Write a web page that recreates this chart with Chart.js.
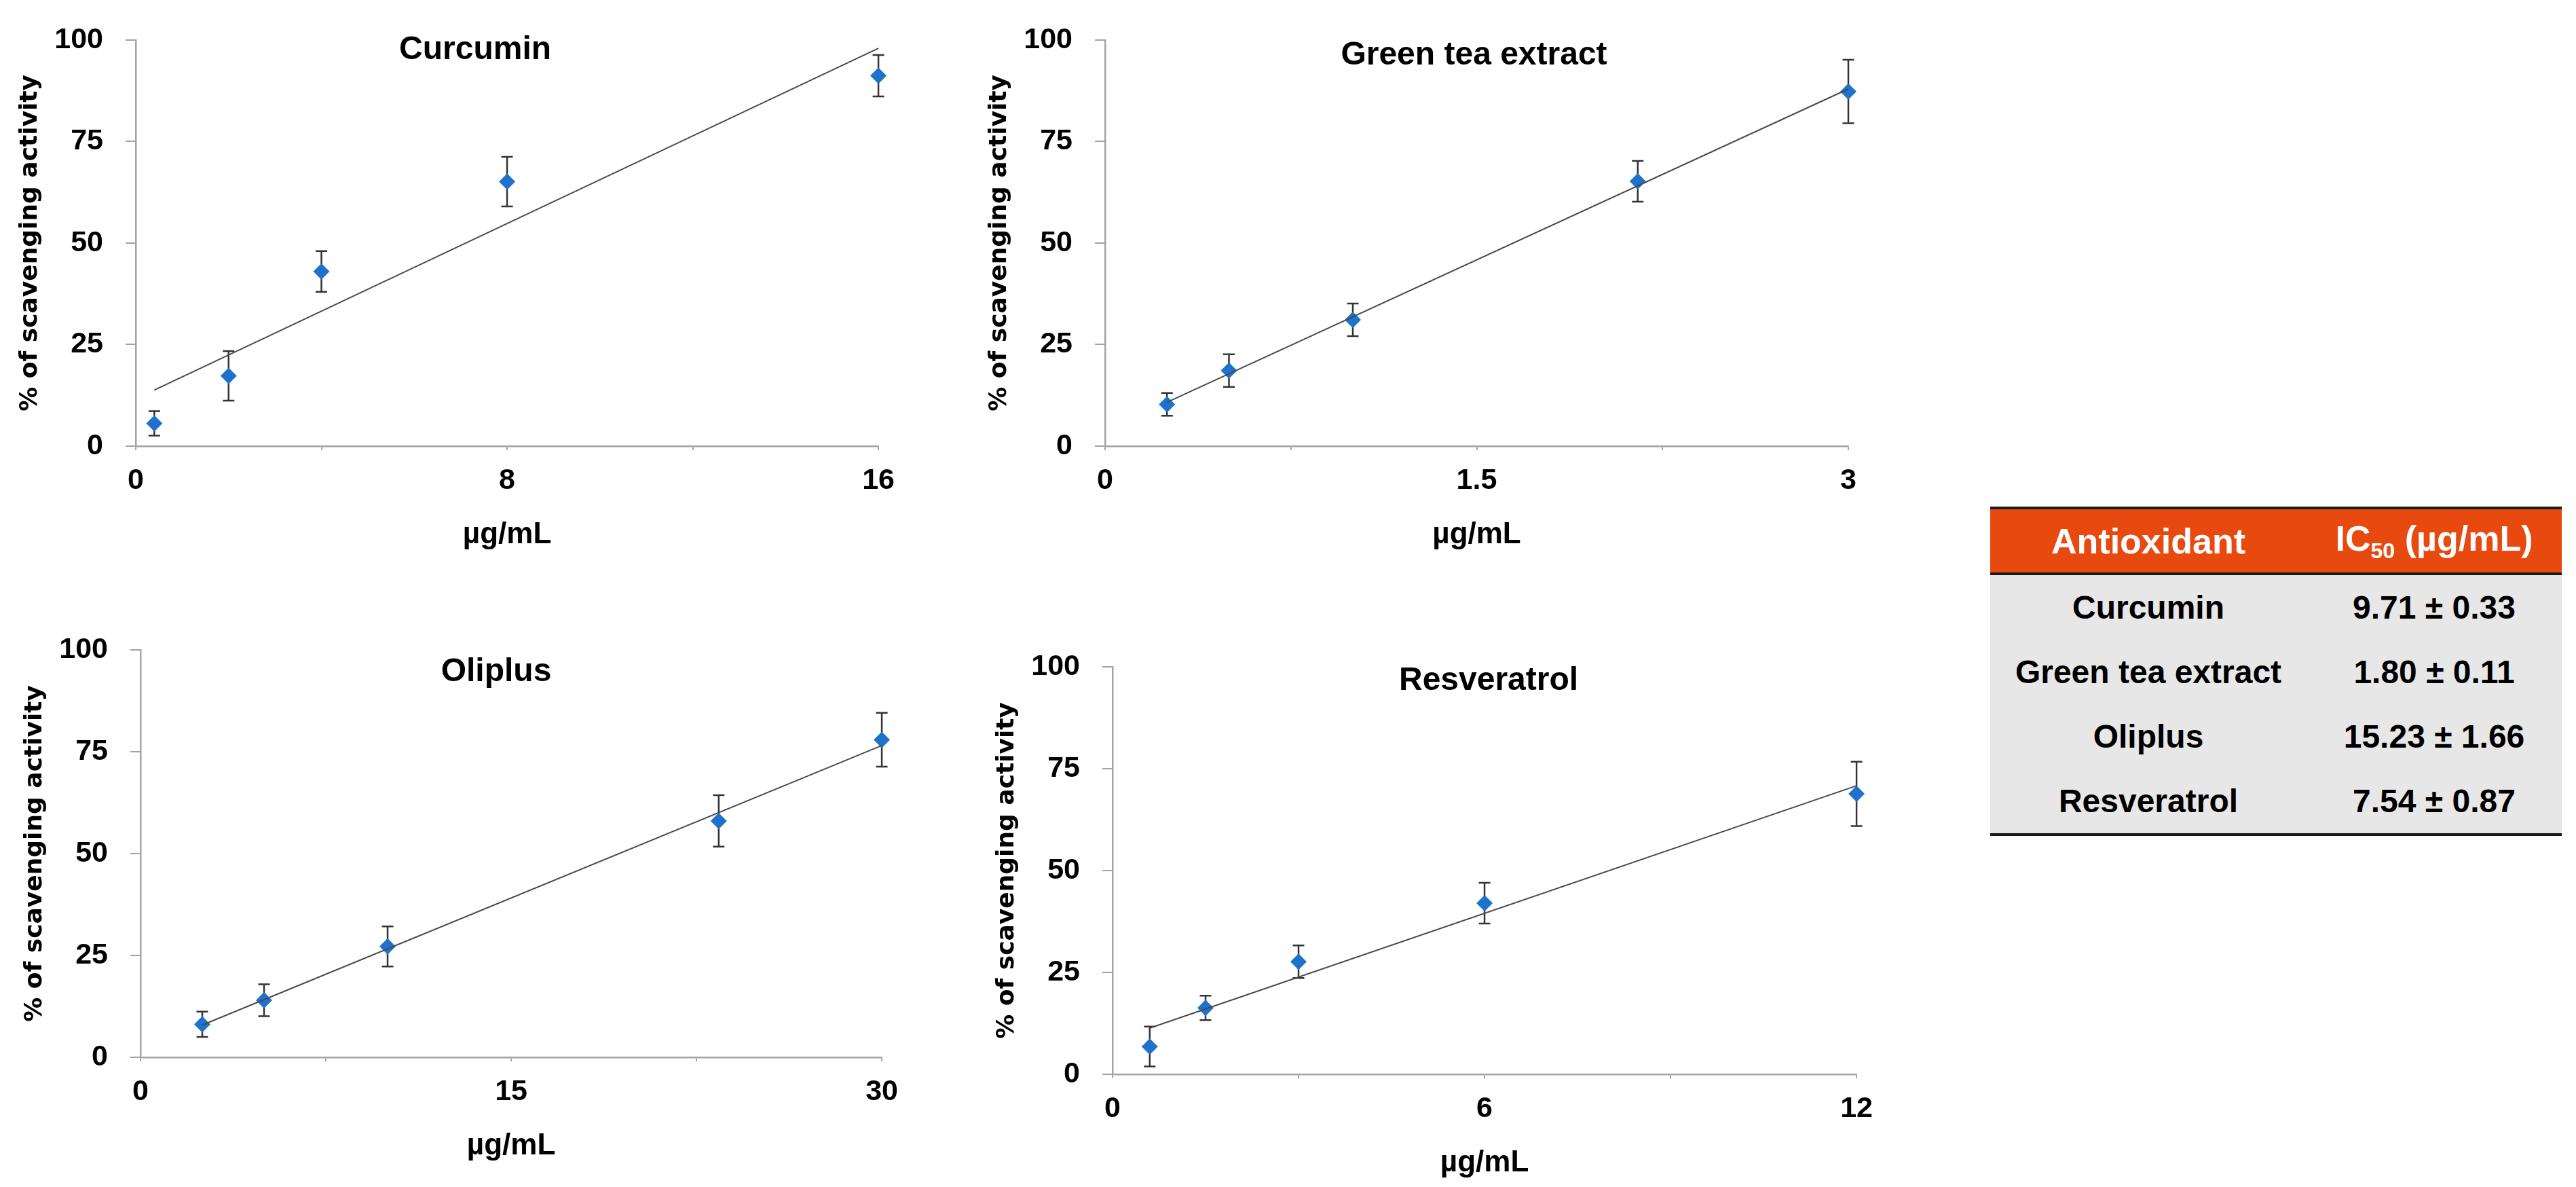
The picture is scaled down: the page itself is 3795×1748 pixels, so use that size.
<!DOCTYPE html>
<html>
<head>
<meta charset="utf-8">
<script src="https://cdn.jsdelivr.net/npm/chart.js@4.4.1/dist/chart.umd.min.js"></script>
<style>
  html, body { margin: 0; padding: 0; background: #fff; }
  #page { position: relative; width: 3795px; height: 1748px; overflow: hidden; }
  #page canvas { position: absolute; }
  #ic50 { position: absolute; left: 2932px; top: 746px; width: 842px; border-collapse: collapse;
          font-family: "Liberation Sans", Arial, sans-serif; font-weight: bold; }
  #ic50 th { background: #e8490f; color: #fff; font-size: 52px; height: 93px; padding: 0;
             border-top: 4px solid #1a1a1a; border-bottom: 4px solid #1a1a1a; }
  #ic50 th sub { font-size: 0.62em; }
  #ic50 td { background: #e7e7e7; color: #000; font-size: 48px; height: 95px; padding: 0; text-align: center; }
  #ic50 tr:last-child td { border-bottom: 4px solid #1a1a1a; }
</style>
</head>
<body>
<div id="page">
  <canvas id="c0"></canvas>
  <canvas id="c1"></canvas>
  <canvas id="c2"></canvas>
  <canvas id="c3"></canvas>
  <table id="ic50"></table>
</div>
<script>
// values (% of scavenging activity vs µg/mL)
const antioxidants = ["Curcumin", "Green tea extract", "Oliplus", "Resveratrol"];

const curcuminX = [0.4, 2, 4, 8, 16];
const curcuminY = [5.6, 17.3, 43.0, 65.1, 91.2];
const curcuminErr = [3.0, 6.1, 5.0, 6.1, 5.1];

const greenTeaX = [0.25, 0.5, 1, 2.15, 3];
const greenTeaY = [10.3, 18.6, 31.1, 65.2, 87.3];
const greenTeaErr = [2.8, 4.0, 4.0, 5.0, 7.8];

const oliplusX = [2.5, 5, 10, 23.4, 30];
const oliplusY = [8.1, 14.0, 27.2, 58.0, 77.9];
const oliplusErr = [3.1, 3.9, 4.9, 6.3, 6.6];

const resveratrolX = [0.6, 1.5, 3, 6, 12];
const resveratrolY = [6.8, 16.3, 27.6, 42.0, 68.8];
const resveratrolErr = [4.9, 3.0, 4.0, 5.0, 7.9];

const xMax = [16, 3, 30, 12];
const yTicks = [0, 25, 50, 75, 100];

const ic50Mean = [9.71, 1.80, 15.23, 7.54];
const ic50Sd = [0.33, 0.11, 1.66, 0.87];

// plot rectangles on the page [left, top, right, bottom] and title offsets
const plots = [
  { rect: [200, 46, 1297, 657], titleDx: -47, titleDy: 15 },
  { rect: [1628, 46, 2723, 657], titleDx: -4, titleDy: 23 },
  { rect: [207, 944, 1302, 1557], titleDx: -22, titleDy: 33 },
  { rect: [1639, 969, 2738, 1582], titleDx: 6, titleDy: 21 }
];

const series = [
  [curcuminX, curcuminY, curcuminErr],
  [greenTeaX, greenTeaY, greenTeaErr],
  [oliplusX, oliplusY, oliplusErr],
  [resveratrolX, resveratrolY, resveratrolErr]
];

const Y_SCALE_W = 200, TOP_PAD = 46, X_SCALE_H = 165, RIGHT_PAD = 40;
const axisGrey = "#a3a3a3";

Chart.defaults.font.family = "'Liberation Sans', Arial, sans-serif";
Chart.defaults.color = "#000";

// least squares line, like the Excel linear trendline
function fit(xs, ys) {
  const n = xs.length;
  const mx = xs.reduce((a, b) => a + b, 0) / n;
  const my = ys.reduce((a, b) => a + b, 0) / n;
  let sxy = 0, sxx = 0;
  for (let i = 0; i < n; i++) {
    sxy += (xs[i] - mx) * (ys[i] - my);
    sxx += (xs[i] - mx) * (xs[i] - mx);
  }
  const slope = sxy / sxx;
  return { slope: slope, icpt: my - slope * mx };
}

const errorBars = {
  id: "errorBars",
  beforeDatasetsDraw(chart) {
    const { ctx, scales } = chart;
    const ds = chart.data.datasets.find(d => d.errors);
    ctx.save();
    ctx.strokeStyle = "#333";
    ctx.lineWidth = 2.5;
    ds.data.forEach((p, i) => {
      const px = scales.x.getPixelForValue(p.x);
      const hi = scales.y.getPixelForValue(p.y + ds.errors[i]);
      const lo = scales.y.getPixelForValue(p.y - ds.errors[i]);
      ctx.beginPath();
      ctx.moveTo(px, hi); ctx.lineTo(px, lo);
      ctx.moveTo(px - 8.5, hi); ctx.lineTo(px + 8.5, hi);
      ctx.moveTo(px - 8.5, lo); ctx.lineTo(px + 8.5, lo);
      ctx.stroke();
    });
    ctx.restore();
  }
};

const panelTitle = {
  id: "panelTitle",
  afterDraw(chart, args, opts) {
    const { ctx, chartArea } = chart;
    ctx.save();
    ctx.font = "bold 48px 'Liberation Sans', Arial, sans-serif";
    ctx.fillStyle = "#000";
    ctx.textAlign = "center";
    ctx.textBaseline = "middle";
    ctx.fillText(opts.text, (chartArea.left + chartArea.right) / 2 + opts.dx, chartArea.top + opts.dy);
    ctx.restore();
  }
};

series.forEach((s, k) => {
  const [xs, ys, errs] = s;
  const [L, T, R, B] = plots[k].rect;
  const cv = document.getElementById("c" + k);
  cv.width = R - L + Y_SCALE_W + RIGHT_PAD;
  cv.height = B - T + TOP_PAD + X_SCALE_H;
  cv.style.left = (L - Y_SCALE_W) + "px";
  cv.style.top = (T - TOP_PAD) + "px";

  const line = fit(xs, ys);
  const x0 = Math.min(...xs), x1 = Math.max(...xs);

  new Chart(cv, {
    type: "scatter",
    data: {
      datasets: [{
        label: "trend",
        data: [{ x: x0, y: line.icpt + line.slope * x0 }, { x: x1, y: line.icpt + line.slope * x1 }],
        showLine: true,
        borderColor: "#4a4a4a",
        borderWidth: 2,
        pointRadius: 0,
        clip: false,
        order: 0
      }, {
        label: antioxidants[k],
        data: xs.map((x, i) => ({ x: x, y: ys[i] })),
        errors: errs,
        pointStyle: "rectRot",
        pointRadius: 12,
        backgroundColor: "#1f72cc",
        borderWidth: 0,
        clip: false,
        order: 1
      }]
    },
    options: {
      responsive: false,
      animation: false,
      devicePixelRatio: 1,
      layout: { padding: { top: TOP_PAD, right: RIGHT_PAD, left: 0, bottom: 0 } },
      plugins: {
        legend: { display: false },
        tooltip: { enabled: false },
        panelTitle: { text: antioxidants[k], dx: plots[k].titleDx, dy: plots[k].titleDy }
      },
      scales: {
        x: {
          type: "linear",
          min: 0,
          max: xMax[k],
          afterFit: sc => { sc.height = X_SCALE_H; },
          ticks: {
            stepSize: xMax[k] / 4,
            autoSkip: false,
            maxRotation: 0,
            padding: 19,
            font: { size: 43, weight: "bold" },
            callback: (v, i) => (i % 2 === 0 ? String(v) : "")
          },
          grid: { drawOnChartArea: false, tickLength: 6, color: axisGrey, lineWidth: 2 },
          border: { color: axisGrey, width: 2.5 },
          title: {
            display: true,
            text: "µg/mL",
            font: { size: 44, weight: "bold" },
            padding: { top: 0, bottom: 8 }
          }
        },
        y: {
          min: 0,
          max: 100,
          afterFit: sc => { sc.width = Y_SCALE_W; },
          afterBuildTicks: sc => { sc.ticks = yTicks.map(v => ({ value: v })); },
          ticks: { padding: 33, font: { size: 43, weight: "bold" } },
          grid: { drawOnChartArea: false, tickLength: 15, color: axisGrey, lineWidth: 2 },
          border: { color: axisGrey, width: 2.5 },
          title: {
            display: true,
            text: "% of scavenging activity",
            font: { family: "'DejaVu Sans', Verdana, sans-serif", size: 36, weight: "bold" },
            padding: { top: 23, bottom: 0 }
          }
        }
      }
    },
    plugins: [errorBars, panelTitle]
  });
});

// IC50 table
const tbl = document.getElementById("ic50");
let html = '<tr><th style="width:466px">Antioxidant</th><th>IC<sub>50</sub> (µg/mL)</th></tr>';
antioxidants.forEach((name, i) => {
  html += "<tr><td>" + name + "</td><td>" + ic50Mean[i].toFixed(2) + " ± " + ic50Sd[i].toFixed(2) + "</td></tr>";
});
tbl.innerHTML = html;
</script>
</body>
</html>
